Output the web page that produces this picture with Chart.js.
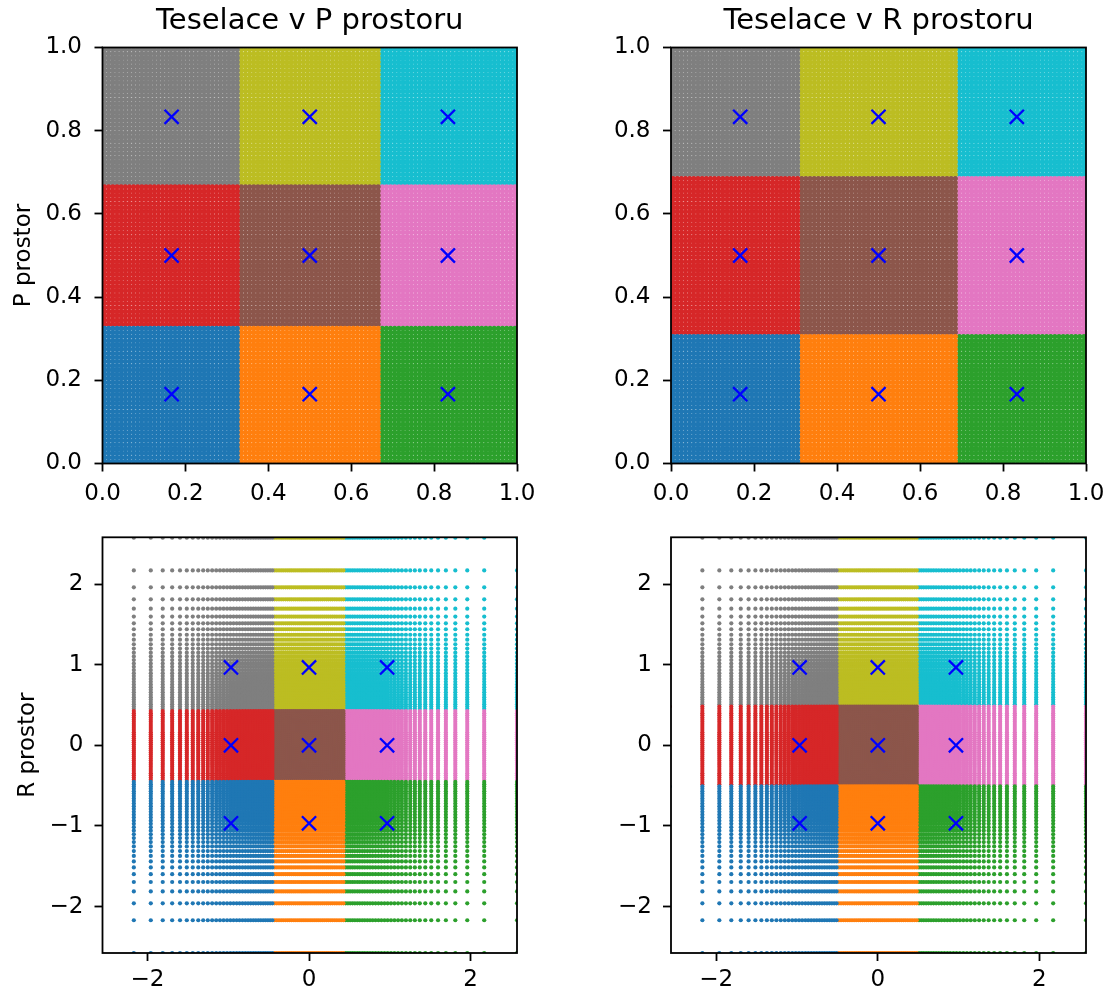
<!DOCTYPE html>
<html>
<head>
<meta charset="utf-8">
<script src="https://cdn.jsdelivr.net/npm/chart.js@4/dist/chart.umd.min.js"></script>
<style>
  html, body { margin: 0; padding: 0; background: #fff; overflow: hidden; }
  #wrap { position: relative; width: 1105px; height: 994px; overflow: hidden; }
  canvas { position: absolute; }
</style>
</head>
<body>
<div id="wrap">
  <canvas id="tl" width="552" height="510" style="left:0;top:0"></canvas>
  <canvas id="tr" width="573" height="510" style="left:552px;top:0"></canvas>
  <canvas id="bl" width="552" height="484" style="left:0;top:510px"></canvas>
  <canvas id="br" width="553" height="484" style="left:552px;top:510px"></canvas>
</div>
<script>
// grid of points in P space (100 per axis)
var pGrid = [
  0.005, 0.015, 0.025, 0.035, 0.045, 0.055, 0.065, 0.075, 0.085, 0.095,
  0.105, 0.115, 0.125, 0.135, 0.145, 0.155, 0.165, 0.175, 0.185, 0.195,
  0.205, 0.215, 0.225, 0.235, 0.245, 0.255, 0.265, 0.275, 0.285, 0.295,
  0.305, 0.315, 0.325, 0.335, 0.345, 0.355, 0.365, 0.375, 0.385, 0.395,
  0.405, 0.415, 0.425, 0.435, 0.445, 0.455, 0.465, 0.475, 0.485, 0.495,
  0.505, 0.515, 0.525, 0.535, 0.545, 0.555, 0.565, 0.575, 0.585, 0.595,
  0.605, 0.615, 0.625, 0.635, 0.645, 0.655, 0.665, 0.675, 0.685, 0.695,
  0.705, 0.715, 0.725, 0.735, 0.745, 0.755, 0.765, 0.775, 0.785, 0.795,
  0.805, 0.815, 0.825, 0.835, 0.845, 0.855, 0.865, 0.875, 0.885, 0.895,
  0.905, 0.915, 0.925, 0.935, 0.945, 0.955, 0.965, 0.975, 0.985, 0.995
]
// the same grid in R space (same order as pGrid)
var rGrid = [
  -2.576, -2.170, -1.960, -1.812, -1.695, -1.598, -1.514, -1.440, -1.372, -1.311,
  -1.254, -1.200, -1.150, -1.103, -1.058, -1.015, -0.974, -0.935, -0.896, -0.860,
  -0.824, -0.789, -0.755, -0.722, -0.690, -0.659, -0.628, -0.598, -0.568, -0.539,
  -0.510, -0.482, -0.454, -0.426, -0.399, -0.372, -0.345, -0.319, -0.292, -0.266,
  -0.240, -0.215, -0.189, -0.164, -0.138, -0.113, -0.088, -0.063, -0.038, -0.013,
  0.013, 0.038, 0.063, 0.088, 0.113, 0.138, 0.164, 0.189, 0.215, 0.240,
  0.266, 0.292, 0.319, 0.345, 0.372, 0.399, 0.426, 0.454, 0.482, 0.510,
  0.539, 0.568, 0.598, 0.628, 0.659, 0.690, 0.722, 0.755, 0.789, 0.824,
  0.860, 0.896, 0.935, 0.974, 1.015, 1.058, 1.103, 1.150, 1.200, 1.254,
  1.311, 1.372, 1.440, 1.514, 1.598, 1.695, 1.812, 1.960, 2.170, 2.576
]

// centers of the tessellation (per axis)
var pCenters = [0.1667, 0.5, 0.8333]
var rCenters = [-0.967, 0, 0.967]

// region colours, row by row from the bottom
var regionColors = ['#1f77b4', '#ff7f0e', '#2ca02c',
                    '#d62728', '#8c564b', '#e377c2',
                    '#7f7f7f', '#bcbd22', '#17becf']

var pTicks = [0, 0.2, 0.4, 0.6, 0.8, 1.0]
var rTicksX = [-2, 0, 2]
var rTicksY = [-2, -1, 0, 1, 2]

var titleP = 'Teselace v P prostoru'
var titleR = 'Teselace v R prostoru'
var labelP = 'P prostor'
var labelR = 'R prostor'

var FONT = 'DejaVu Sans'

function nearest(v, centers) {
  var best = 0
  for (var k = 1; k < centers.length; k++) {
    if (Math.abs(v - centers[k]) < Math.abs(v - centers[best])) best = k
  }
  return best
}

// space = where the points are drawn, tessel = which space decides the colour
function buildDatasets(space, tessel) {
  var coords = space == 'P' ? pGrid : rGrid
  var tCoords = tessel == 'P' ? pGrid : rGrid
  var tCenters = tessel == 'P' ? pCenters : rCenters
  var dotR = space == 'P' ? 2.6 : 2.1
  var groups = regionColors.map(() => [])
  for (var i = 0; i < coords.length; i++) {
    var cx = nearest(tCoords[i], tCenters)
    for (var j = 0; j < coords.length; j++) {
      var cy = nearest(tCoords[j], tCenters)
      groups[cy * 3 + cx].push({ x: coords[i], y: coords[j] })
    }
  }
  var datasets = groups.map((g, k) => ({
    data: g,
    backgroundColor: regionColors[k],
    borderWidth: 0,
    pointRadius: dotR,
    pointHoverRadius: dotR,
    clip: 0,
    order: 1
  }))
  var centers = space == 'P' ? pCenters : rCenters
  var marks = []
  centers.forEach(cy => centers.forEach(cx => marks.push({ x: cx, y: cy })))
  datasets.push({
    data: marks,
    pointStyle: 'crossRot',
    pointRadius: 10,
    pointHoverRadius: 10,
    borderColor: '#0000ff',
    backgroundColor: '#0000ff',
    borderWidth: 2.3,
    order: 0
  })
  return datasets
}

var framePlugin = {
  id: 'frame',
  afterDraw(chart) {
    var a = chart.chartArea, ctx = chart.ctx
    ctx.save()
    ctx.strokeStyle = '#000'
    ctx.lineWidth = 1.8
    ctx.strokeRect(a.left, a.top, a.right - a.left, a.bottom - a.top)
    ctx.restore()
  }
}

function fmtP(v) { return Number(v).toFixed(1) }
function fmtR(v) { return String(v).replace('-', '\u2212') }

function axis(opts) {
  var horiz = opts.pos == 'bottom'
  return {
    type: 'linear',
    position: opts.pos,
    min: opts.min,
    max: opts.max,
    afterBuildTicks: s => { s.ticks = opts.ticks.map(v => ({ value: v })) },
    afterFit: s => { if (horiz) s.height = opts.size; else s.width = opts.size },
    border: { display: false },
    grid: { drawOnChartArea: false, drawTicks: true, tickLength: 8, tickWidth: 1.8, tickColor: '#000' },
    ticks: {
      color: '#000',
      font: { family: FONT, size: 23 },
      padding: opts.pad,
      maxRotation: 0,
      autoSkip: false,
      callback: opts.fmt
    },
    title: opts.title ? {
      display: true,
      text: opts.title,
      color: '#000',
      font: { family: FONT, size: 23 },
      padding: { top: opts.titlePad, bottom: 0 }
    } : { display: false }
  }
}

function makeChart(id, space, tessel, cfg) {
  var isP = space == 'P'
  return new Chart(document.getElementById(id), {
    type: 'scatter',
    data: { datasets: buildDatasets(space, tessel) },
    plugins: [framePlugin],
    options: {
      responsive: false,
      animation: false,
      events: [],
      layout: { padding: cfg.padding },
      plugins: {
        legend: { display: false },
        tooltip: { enabled: false },
        title: cfg.title ? {
          display: true,
          text: cfg.title,
          fullSize: false,
          color: '#000',
          font: { family: FONT, size: 29, weight: 'normal' },
          padding: { top: 4, bottom: 8.7 }
        } : { display: false }
      },
      scales: {
        x: axis({ pos: 'bottom', min: isP ? 0 : -2.558, max: isP ? 1 : 2.576,
                  ticks: isP ? pTicks : rTicksX, fmt: isP ? fmtP : fmtR,
                  size: cfg.xSize, pad: cfg.xPad }),
        y: axis({ pos: 'left', min: isP ? 0 : -2.576, max: isP ? 1 : 2.581,
                  ticks: isP ? pTicks : rTicksY, fmt: isP ? fmtP : fmtR,
                  size: cfg.ySize, pad: isP ? 12.5 : 11,
                  title: cfg.yTitle, titlePad: cfg.titlePad })
      }
    }
  })
}

makeChart('tl', 'P', 'P', { title: titleP, padding: { left: 0, right: 35, top: 0, bottom: 0 },
  xSize: 46.5, xPad: 8.5, ySize: 102.5, yTitle: labelP, titlePad: 10 })
makeChart('tr', 'P', 'R', { title: titleR, padding: { left: 0, right: 39, top: 0, bottom: 0 },
  xSize: 46.5, xPad: 8.5, ySize: 119 })
makeChart('bl', 'R', 'P', { padding: { left: 0, right: 35, top: 27.3, bottom: 0 },
  xSize: 41, xPad: 5, ySize: 102.5, yTitle: labelR, titlePad: 14 })
makeChart('br', 'R', 'R', { padding: { left: 0, right: 19, top: 27.3, bottom: 0 },
  xSize: 41, xPad: 5, ySize: 119 })
</script>
</body>
</html>
